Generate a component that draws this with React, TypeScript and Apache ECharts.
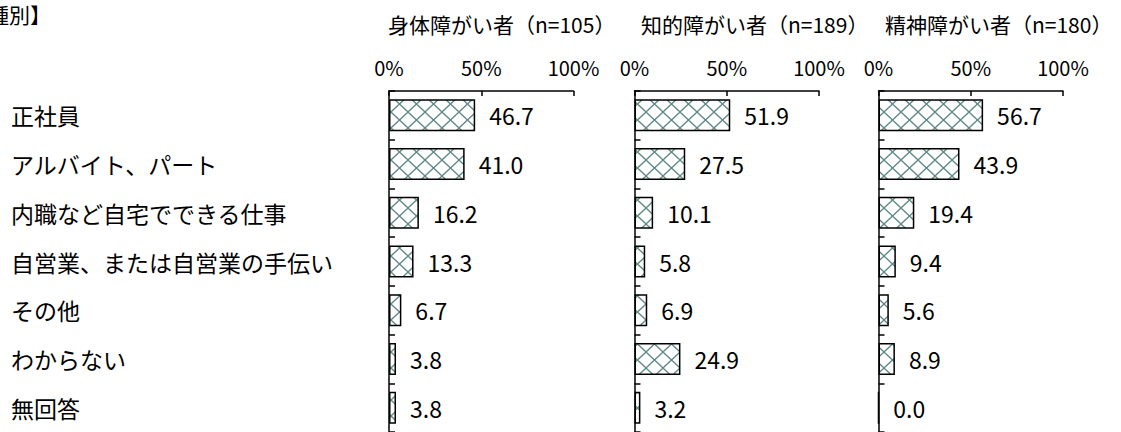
import React, { useEffect, useRef } from "react";
import * as echarts from "echarts";

const categories = [
  "正社員",
  "アルバイト、パート",
  "内職など自宅でできる仕事",
  "自営業、または自営業の手伝い",
  "その他",
  "わからない",
  "無回答",
];
const groupTitles = ["身体障がい者（n=105）", "知的障がい者（n=189）", "精神障がい者（n=180）"];
const physical = [46.7, 41.0, 16.2, 13.3, 6.7, 3.8, 3.8];
const intellectual = [51.9, 27.5, 10.1, 5.8, 6.9, 24.9, 3.2];
const mental = [56.7, 43.9, 19.4, 9.4, 5.6, 8.9, 0.0];
const xMin = 0;
const xMax = 100;
const xStep = 50;
const headerText = "【障がい種別】";

const FONT = "'Noto Sans CJK JP', 'Noto Sans', sans-serif";

function makePattern(): HTMLCanvasElement {
  const c = document.createElement("canvas");
  c.width = 17;
  c.height = 16;
  const ctx = c.getContext("2d")!;
  ctx.fillStyle = "#ffffff";
  ctx.fillRect(0, 0, 17, 16);
  ctx.strokeStyle = "#5f8a86";
  ctx.lineWidth = 1.3;
  ctx.beginPath();
  ctx.moveTo(0, 0);
  ctx.lineTo(17, 16);
  ctx.moveTo(17, 0);
  ctx.lineTo(0, 16);
  ctx.stroke();
  return c;
}

export default function App() {
  const ref = useRef<HTMLDivElement>(null);
  useEffect(() => {
    document.body.style.margin = "0";
    if (!ref.current) return;
    const chart = echarts.init(ref.current, null, { renderer: "svg" });
    const pattern = makePattern();
    const seriesData = [physical, intellectual, mental];
    const lefts = [389, 634.5, 878.5];
    const titleX = [388, 641, 885];
    const gridW = 184.5;
    const top = 91;
    const h = 341.6;

    const option: any = {
      animation: false,
      backgroundColor: "#ffffff",
      textStyle: { fontFamily: FONT },
      grid: lefts.map((l) => ({ left: l, top, width: gridW, height: h, containLabel: false })),
      xAxis: lefts.map((_, i) => ({
        type: "value",
        gridIndex: i,
        position: "top",
        min: xMin,
        max: xMax,
        interval: xStep,
        axisLine: { show: true, lineStyle: { color: "#000", width: 1.5 } },
        axisTick: { show: true, inside: true, length: 5, lineStyle: { color: "#000", width: 1.5 } },
        splitLine: { show: false },
        axisLabel: {
          formatter: "{value}%",
          fontSize: 20,
          color: "#000",
          margin: 14,
          fontFamily: FONT,
        },
      })),
      yAxis: lefts.map((_, i) => ({
        type: "category",
        gridIndex: i,
        data: categories,
        inverse: true,
        axisLine: { show: true, lineStyle: { color: "#000", width: 1.5 } },
        axisTick: { show: true, inside: true, length: 6, alignWithLabel: false, lineStyle: { color: "#000", width: 1.5 } },
        axisLabel: {
          show: i === 0,
          align: "left",
          margin: 378,
          fontSize: 23,
          color: "#000",
          fontFamily: FONT,
        },
      })),
      series: seriesData.map((d, i) => ({
        type: "bar",
        xAxisIndex: i,
        yAxisIndex: i,
        data: d,
        barWidth: 32,
        itemStyle: {
          color: { image: pattern, repeat: "repeat" },
          borderColor: "#000",
          borderWidth: 1.5,
        },
        label: {
          show: true,
          position: "right",
          distance: 14,
          formatter: (p: any) => Number(p.value).toFixed(1),
          fontSize: 23,
          color: "#000",
          fontFamily: FONT,
        },
      })),
      graphic: [
        {
          type: "text",
          x: 51,
          y: 14,
          style: {
            text: headerText,
            fontSize: 21,
            fontFamily: FONT,
            fill: "#000",
            textAlign: "right",
            textVerticalAlign: "middle",
          },
        },
        ...groupTitles.map((t, i) => ({
          type: "text",
          x: titleX[i],
          y: 24,
          style: {
            text: t,
            fontSize: 21,
            fontFamily: FONT,
            fill: "#000",
            textAlign: "left",
            textVerticalAlign: "middle",
          },
        })),
      ],
    };
    chart.setOption(option);
    return () => chart.dispose();
  }, []);
  return <div ref={ref} style={{ width: 1121, height: 432 }} />;
}
